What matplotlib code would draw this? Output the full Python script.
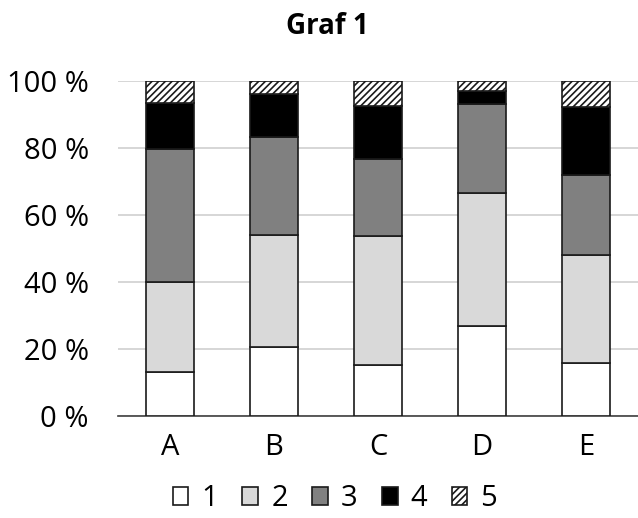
import matplotlib.pyplot as plt
import numpy as np

plt.rcParams['font.family'] = ['Open Sans', 'DejaVu Sans']
plt.rcParams['hatch.linewidth'] = 1.2

categories = ['A', 'B', 'C', 'D', 'E']
series_names = ['1', '2', '3', '4', '5']
# share of each answer (%)
s1 = [13.2, 20.7, 15.3, 26.7, 15.9]
s2 = [26.7, 33.4, 38.5, 39.9, 32.1]
s3 = [39.9, 29.2, 23.0, 26.6, 23.9]
s4 = [13.7, 12.8, 15.8, 3.8, 20.2]
s5 = [6.5, 3.9, 7.4, 3.0, 7.9]
yticks = [0, 20, 40, 60, 80, 100]

series = [s1, s2, s3, s4, s5]
fills = ['white', '#d9d9d9', '#808080', 'black', 'white']
hatches = [None, None, None, None, '/////']

fig = plt.figure(figsize=(6.38, 5.18), dpi=100)
ax = fig.add_axes([0.185, 0.197, 0.815, 0.647])

x = np.arange(len(categories))
bottom = np.zeros(len(categories))
handles = []
for vals, fc, h, name in zip(series, fills, hatches, series_names):
    b = ax.bar(x, vals, width=0.455, bottom=bottom, color=fc, hatch=h,
               edgecolor='#1a1a1a', linewidth=1.2, label=name, zorder=3)
    handles.append(b)
    bottom += np.array(vals)

ax.set_xlim(-0.5, 4.5)
ax.set_ylim(0, 100)
ax.set_yticks(yticks)
ax.set_yticklabels([f'{t} %' for t in yticks])
ax.set_xticks(x)
ax.set_xticklabels(categories)
ax.tick_params(axis='both', length=0, labelsize=21, colors='black')
ax.tick_params(axis='y', pad=21)
ax.tick_params(axis='x', pad=12)
ax.grid(axis='y', color='#d0d0d0', linewidth=1.2, zorder=0)
for side in ['left', 'right', 'top']:
    ax.spines[side].set_visible(False)
ax.spines['bottom'].set_color('#404040')
ax.spines['bottom'].set_linewidth(1.2)

fig.text(0.513, 0.948, 'Graf 1', ha='center', va='center',
         fontsize=20, fontweight='bold')

fig.legend(handles=handles, labels=series_names, loc='center',
           bbox_to_anchor=(0.525, 0.037), ncol=5, frameon=False,
           fontsize=21, handlelength=0.54, handleheight=0.59,
           handletextpad=0.45, columnspacing=0.83, borderpad=0)

fig.savefig('out.png', dpi=100, facecolor='white')
